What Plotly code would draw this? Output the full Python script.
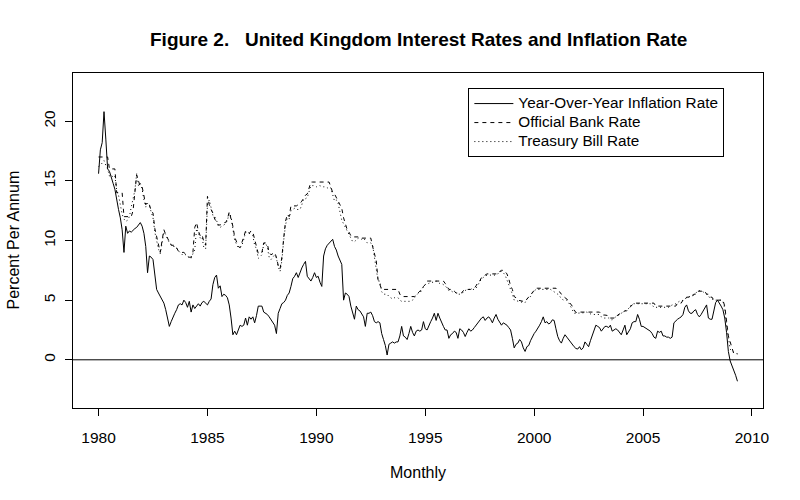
import plotly.graph_objects as go

start_year = 1980
# Year-over-year inflation rate, monthly, Jan 1980 - May 2009
inflation = [
    15.6, 17.6, 18.2, 20.8, 18.5, 16.0, 15.8, 15.2, 14.8, 14.3, 13.3, 12.6,   # 1980
    11.9, 10.9, 9.0, 11.2, 10.6, 10.8, 10.7, 10.9, 11.0, 11.1, 11.3, 11.5,    # 1981
    11.2, 10.6, 9.5, 7.3, 8.7, 8.6, 8.4, 7.0, 5.9, 5.6, 5.3, 5.0,             # 1982
    4.75, 4.2, 3.4, 2.8, 3.2, 3.6, 3.9, 4.2, 4.6, 4.7, 4.6, 5.0,              # 1983
    4.8, 4.4, 4.9, 4.0, 4.6, 4.3, 4.5, 4.7, 4.5, 4.8, 4.9, 4.7,               # 1984
    4.6, 4.9, 5.1, 6.3, 6.9, 7.1, 6.0, 6.2, 5.3, 5.5, 5.4, 5.2,               # 1985
    4.6, 3.5, 2.1, 2.4, 2.1, 2.5, 2.9, 2.8, 2.9, 3.5, 2.9, 3.6,               # 1986
    3.4, 3.6, 3.1, 3.7, 4.5, 4.5, 4.5, 4.0, 3.9, 3.8, 3.6, 3.4,               # 1987
    3.1, 2.9, 2.2, 3.9, 4.3, 4.7, 4.8, 5.0, 5.4, 5.6, 6.15, 6.8,              # 1988
    7.0, 7.3, 6.9, 7.4, 7.7, 8.0, 8.25, 7.0, 6.8, 6.6, 6.9, 7.3,              # 1989
    6.9, 7.0, 6.5, 6.15, 8.7, 9.3, 9.6, 9.8, 9.9, 10.1, 9.5, 9.2,             # 1990
    8.7, 8.4, 8.0, 5.0, 5.6, 5.5, 5.3, 4.5, 3.9, 3.4, 4.5, 4.2,               # 1991
    4.1, 3.8, 3.6, 2.8, 3.9, 3.9, 4.0, 3.7, 3.2, 3.1, 3.2, 3.1,               # 1992
    2.2, 1.7, 1.2, 0.4, 1.3, 1.4, 1.5, 1.4, 1.5, 1.5, 2.0, 2.8,               # 1993
    2.0, 1.9, 1.7, 2.2, 2.8, 2.3, 2.0, 2.4, 2.5, 2.4, 2.5, 3.2,               # 1994
    2.6, 2.5, 2.9, 3.2, 3.5, 3.9, 3.3, 3.9, 3.5, 3.1, 2.8, 2.5,               # 1995
    2.5, 1.8, 2.1, 2.2, 2.4, 2.3, 1.8, 2.6, 2.5, 2.3, 1.95, 2.3,              # 1996
    2.6, 2.4, 2.5, 2.7, 2.9, 3.2, 3.35, 3.5, 3.6, 3.3, 3.5, 3.6,              # 1997
    3.4, 3.1, 3.5, 3.8, 3.4, 3.2, 2.9, 3.1, 3.0, 2.9, 2.7, 2.5,               # 1998
    1.8, 1.0, 1.3, 1.4, 1.7, 1.5, 1.0, 0.7, 1.1, 1.2, 1.6, 1.95,              # 1999
    2.2, 2.4, 2.6, 2.9, 3.2, 3.6, 3.1, 3.2, 3.0, 3.1, 3.35, 3.3,              # 2000
    2.6, 1.95, 1.6, 1.4, 1.8, 2.1, 1.9, 1.7, 1.4, 1.2, 1.1, 0.95,             # 2001
    0.9, 1.1, 0.84, 1.0, 1.5, 1.3, 1.1, 1.6, 2.1, 2.6, 2.9, 2.8,              # 2002
    2.7, 2.4, 2.6, 2.8, 2.8, 2.7, 2.9, 2.4, 2.5, 2.6, 2.5, 2.3,               # 2003
    2.1, 2.5, 2.9, 2.1, 2.4, 2.6, 3.1, 3.2, 3.2, 3.8, 3.4, 2.8,               # 2004
    2.8, 2.7, 2.6, 2.5, 2.4, 2.2, 1.9, 1.8, 2.4, 2.3, 2.4, 2.0,               # 2005
    2.0, 1.9, 1.9, 1.8, 1.9, 3.1, 3.3, 3.4, 3.5, 3.6, 3.8, 4.4,               # 2006
    4.6, 4.1, 3.9, 3.9, 4.1, 4.2, 3.8, 3.6, 3.8, 4.1, 4.3, 4.6,               # 2007
    3.5, 3.4, 3.4, 4.0, 4.8, 5.0, 4.8, 4.5, 4.2, 3.5, 2.3, 0.7,               # 2008
    -0.1, -0.5, -0.8, -1.3, -1.8,                                             # 2009
]

# Official Bank Rate, monthly
bank_rate = [
    17, 17, 17, 17, 17, 17, 16, 16, 16, 16, 14, 14,                           # 1980
    14, 14, 12, 12, 12, 12, 12, 12.5, 14, 15.5, 15, 14.5,                     # 1981
    14.5, 13.6, 13.0, 13.2, 13.0, 12.5, 12.3, 11, 10.3, 9.5, 9.0, 10,         # 1982
    10.9, 10.5, 10.2, 9.9, 9.6, 9.6, 9.6, 9.4, 9.1, 9.1, 9.0, 9.0,            # 1983
    8.8, 8.7, 8.6, 8.6, 9.0, 11.1, 11.5, 10.8, 10.4, 10.5, 9.9, 9.6,          # 1984
    13.7, 13.0, 12.6, 12.3, 11.8, 11.5, 11.3, 11.3, 11.4, 11.5, 11.5, 11.8,   # 1985
    12.4, 11.9, 11.2, 10.3, 9.8, 9.5, 9.4, 9.8, 10.3, 10.8, 10.8, 10.6,       # 1986
    10.8, 10.7, 10.0, 9.5, 8.9, 9.0, 9.0, 9.8, 9.8, 9.7, 9.0, 8.8,            # 1987
    8.9, 9.0, 8.6, 7.9, 7.6, 8.6, 10.2, 11.6, 12.2, 12.0, 12.9, 12.9,         # 1988
    12.9, 12.9, 13.0, 13.1, 13.3, 13.6, 13.8, 13.9, 14.5, 14.9, 14.9, 14.9,   # 1989
    14.9, 14.9, 14.9, 14.9, 14.9, 14.9, 14.9, 14.9, 14.5, 14.0, 13.9, 13.6,   # 1990
    13.2, 12.9, 12.7, 11.9, 11.4, 10.9, 10.7, 10.4, 10.3, 10.3, 10.3, 10.3,   # 1991
    10.2, 10.2, 10.2, 10.2, 10.2, 10.2, 10.2, 9.5, 8.8, 8.3, 6.7, 6.3,        # 1992
    5.9, 5.9, 5.9, 5.9, 5.9, 5.9, 5.9, 5.9, 5.9, 5.9, 5.5, 5.3,               # 1993
    5.3, 5.3, 5.3, 5.3, 5.3, 5.3, 5.3, 5.45, 5.6, 5.75, 5.75, 6.15,           # 1994
    6.3, 6.6, 6.6, 6.6, 6.6, 6.6, 6.6, 6.6, 6.6, 6.6, 6.6, 6.4,               # 1995
    6.15, 5.9, 5.9, 5.75, 5.75, 5.6, 5.6, 5.6, 5.6, 5.8, 5.9, 5.9,            # 1996
    5.9, 5.9, 6.0, 6.0, 6.2, 6.5, 6.6, 6.9, 7.0, 7.1, 7.2, 7.2,               # 1997
    7.2, 7.2, 7.2, 7.2, 7.2, 7.4, 7.5, 7.5, 7.4, 7.2, 6.8, 6.2,               # 1998
    5.9, 5.3, 5.2, 5.0, 4.95, 4.9, 4.9, 4.9, 5.1, 5.2, 5.45, 5.6,             # 1999
    5.9, 6.0, 6.0, 6.0, 6.0, 6.0, 6.0, 6.0, 6.0, 6.0, 6.0, 6.0,               # 2000
    6.0, 5.75, 5.7, 5.5, 5.3, 5.2, 5.1, 4.9, 4.7, 4.5, 4.2, 3.95,             # 2001
    4.0, 4.0, 4.0, 4.0, 4.0, 4.0, 4.0, 4.0, 4.0, 4.0, 4.0, 4.0,               # 2002
    4.0, 3.85, 3.75, 3.75, 3.75, 3.7, 3.5, 3.5, 3.5, 3.5, 3.75, 3.85,         # 2003
    3.9, 4.0, 4.1, 4.1, 4.3, 4.5, 4.6, 4.75, 4.75, 4.75, 4.75, 4.75,          # 2004
    4.75, 4.75, 4.75, 4.75, 4.75, 4.75, 4.75, 4.5, 4.5, 4.5, 4.5, 4.5,        # 2005
    4.5, 4.5, 4.5, 4.5, 4.5, 4.5, 4.5, 4.75, 4.75, 4.75, 5.0, 5.0,            # 2006
    5.25, 5.25, 5.25, 5.25, 5.5, 5.5, 5.75, 5.75, 5.75, 5.75, 5.75, 5.5,      # 2007
    5.5, 5.25, 5.25, 5.0, 5.0, 5.0, 5.0, 5.0, 5.0, 4.5, 3.0, 2.0,             # 2008
    1.5, 1.0, 0.5, 0.5, 0.5,                                                  # 2009
]

# Treasury Bill rate, monthly
tbill_rate = [
    16.2, 16.3, 16.5, 16.7, 16.3, 16.0, 15.4, 15.5, 15.3, 15.4, 14.2, 13.8,   # 1980
    13.0, 12.2, 11.8, 11.6, 11.7, 12.0, 12.8, 13.4, 14.2, 15.6, 14.6, 14.8,   # 1981
    14.3, 13.4, 12.8, 13.1, 12.9, 12.4, 11.9, 10.7, 10.0, 9.3, 8.9, 9.8,      # 1982
    10.7, 10.5, 10.2, 9.8, 9.7, 9.5, 9.5, 9.3, 9.1, 8.9, 8.8, 8.9,            # 1983
    8.8, 8.7, 8.5, 8.5, 8.9, 9.2, 11.0, 10.6, 10.2, 10.3, 9.4, 9.3,           # 1984
    13.0, 13.4, 12.8, 12.1, 12.0, 11.7, 11.2, 11.1, 11.2, 11.3, 11.4, 11.7,   # 1985
    12.3, 12.0, 11.0, 10.0, 9.7, 9.4, 9.4, 9.6, 10.1, 10.7, 10.7, 10.6,       # 1986
    10.5, 10.4, 9.6, 9.3, 8.5, 8.7, 8.8, 9.7, 9.8, 9.4, 8.6, 8.4,             # 1987
    8.6, 8.8, 8.5, 7.8, 7.4, 8.3, 10.0, 11.3, 11.9, 11.8, 12.5, 12.6,         # 1988
    12.7, 12.6, 12.6, 12.6, 13.0, 13.5, 13.5, 13.6, 14.1, 14.6, 14.6, 14.6,   # 1989
    14.5, 14.6, 14.6, 14.5, 14.5, 14.5, 14.4, 14.5, 14.4, 13.8, 13.3, 13.4,   # 1990
    13.1, 12.4, 11.7, 11.4, 11.1, 10.8, 10.6, 10.3, 9.9, 9.9, 10.1, 10.2,     # 1991
    10.2, 10.1, 10.2, 10.0, 9.8, 9.8, 9.8, 9.6, 8.5, 7.8, 6.6, 6.6,           # 1992
    5.7, 5.5, 5.5, 5.5, 5.3, 5.2, 5.1, 5.2, 5.2, 5.2, 5.0, 4.9,               # 1993
    4.9, 4.9, 4.9, 4.9, 4.9, 5.0, 5.2, 5.4, 5.6, 5.7, 5.9, 6.1,               # 1994
    6.3, 6.4, 6.4, 6.5, 6.5, 6.5, 6.6, 6.5, 6.4, 6.4, 6.3, 6.2,               # 1995
    6.0, 5.8, 5.8, 5.7, 5.7, 5.6, 5.5, 5.5, 5.5, 5.7, 5.8, 5.9,               # 1996
    5.9, 5.9, 5.9, 5.9, 6.0, 6.3, 6.6, 6.8, 6.9, 7.0, 7.1, 7.1,               # 1997
    7.1, 7.1, 7.1, 7.1, 7.2, 7.4, 7.4, 7.3, 7.1, 6.7, 6.4, 5.9,               # 1998
    5.5, 5.0, 4.95, 4.95, 4.9, 4.8, 4.8, 4.8, 5.1, 5.2, 5.3, 5.6,             # 1999
    5.8, 5.9, 5.9, 5.9, 5.9, 5.9, 5.9, 5.9, 5.9, 5.9, 5.8, 5.7,               # 2000
    5.6, 5.5, 5.3, 5.2, 5.0, 5.0, 5.0, 4.8, 4.5, 4.2, 3.9, 3.9,               # 2001
    3.9, 3.9, 3.95, 3.9, 3.95, 4.0, 3.9, 3.85, 3.8, 3.8, 3.8, 3.85,           # 2002
    3.8, 3.6, 3.5, 3.5, 3.5, 3.5, 3.35, 3.35, 3.5, 3.6, 3.75, 3.8,            # 2003
    3.9, 4.0, 4.1, 4.2, 4.3, 4.5, 4.7, 4.7, 4.7, 4.7, 4.7, 4.7,               # 2004
    4.7, 4.7, 4.7, 4.7, 4.7, 4.6, 4.4, 4.4, 4.4, 4.4, 4.4, 4.4,               # 2005
    4.4, 4.4, 4.4, 4.5, 4.6, 4.6, 4.7, 4.8, 4.9, 4.9, 5.0, 5.1,               # 2006
    5.2, 5.3, 5.3, 5.4, 5.5, 5.6, 5.7, 5.8, 5.8, 5.7, 5.6, 5.5,               # 2007
    5.3, 5.2, 5.1, 5.0, 5.0, 5.0, 5.0, 5.0, 4.9, 4.3, 2.8, 1.9,               # 2008
    0.9, 0.7, 0.6, 0.55, 0.5,                                                 # 2009
]

x_ticks = [1980, 1985, 1990, 1995, 2000, 2005, 2010]
y_ticks = [0, 5, 10, 15, 20]
series_names = ["Year-Over-Year Inflation Rate", "Official Bank Rate", "Treasury Bill Rate"]

n = len(inflation)
time = [start_year + i / 12 for i in range(n)]

FONT = "Liberation Sans, Arial, sans-serif"
LEGEND_TEXT_PX = 15.3


def legend_label(s):
    # text drawn at full size while the legend row pitch follows a smaller base font
    return '<span style="font-size:%spx">%s</span>' % (LEGEND_TEXT_PX, s)


fig = go.Figure()
fig.add_trace(go.Scatter(x=time, y=inflation, mode="lines", name=legend_label(series_names[0]),
                         line=dict(color="black", width=1)))
fig.add_trace(go.Scatter(x=time, y=bank_rate, mode="lines", name=legend_label(series_names[1]),
                         line=dict(color="black", width=1, dash="4px,4px")))
fig.add_trace(go.Scatter(x=time, y=tbill_rate, mode="lines", name=legend_label(series_names[2]),
                         line=dict(color="black", width=1, dash="1px,3px")))

fig.add_hline(y=0, line=dict(color="black", width=1))

x_span = time[-1] - time[0]
y_lim = (-3, 23)
y_span = y_lim[1] - y_lim[0]

fig.update_layout(
    width=800, height=500,
    margin=dict(l=73, r=37, t=73, b=92),
    paper_bgcolor="white", plot_bgcolor="white",
    font=dict(family=FONT, size=16, color="black"),
    showlegend=True,
    legend=dict(x=0.573, y=0.955, xanchor="left", yanchor="top",
                bordercolor="black", borderwidth=1, bgcolor="white",
                font=dict(size=12.3), tracegroupgap=0, itemwidth=39),
    xaxis=dict(range=[time[0] - 0.04 * x_span, time[-1] + 0.04 * x_span],
               tickvals=x_ticks, ticktext=[str(v) for v in x_ticks],
               tickfont=dict(size=15.5), ticklabelstandoff=8,
               ticks="outside", ticklen=7, tickcolor="black", tickwidth=1,
               showline=True, mirror=True, linecolor="black", linewidth=1,
               showgrid=False, zeroline=False),
    yaxis=dict(range=[y_lim[0] - 0.04 * y_span, y_lim[1] + 0.04 * y_span],
               tickvals=y_ticks, ticktext=[str(v) for v in y_ticks],
               tickangle=-90, tickfont=dict(size=15.5), ticklabelstandoff=4,
               ticks="outside", ticklen=7, tickcolor="black", tickwidth=1,
               showline=True, mirror=True, linecolor="black", linewidth=1,
               showgrid=False, zeroline=False),
    annotations=[
        dict(text="<b>Figure 2.\u00a0\u00a0 United Kingdom Interest Rates and Inflation Rate</b>",
             xref="paper", yref="paper", x=0.5, y=1 + 33 / 335, xanchor="center", yanchor="middle",
             showarrow=False, font=dict(size=19)),
        dict(text="Monthly", xref="paper", yref="paper", x=0.5, y=-65 / 335,
             xanchor="center", yanchor="middle", showarrow=False, font=dict(size=16)),
        dict(text="Percent Per Annum", xref="paper", yref="paper", x=-60 / 690, y=0.5,
             xanchor="center", yanchor="middle", textangle=-90, showarrow=False,
             font=dict(size=16)),
    ],
)

fig.write_html("out.html", config={"displayModeBar": False},
               post_script="document.body.style.margin='0px';")
